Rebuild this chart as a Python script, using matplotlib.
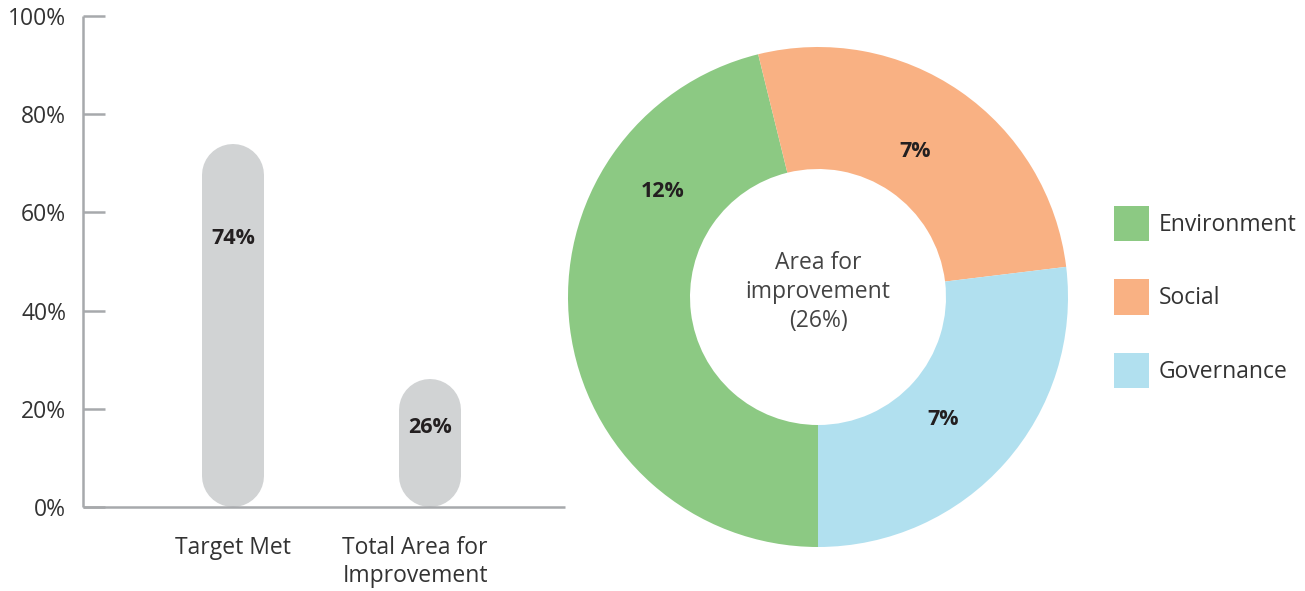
import math
import matplotlib.pyplot as plt
from matplotlib.patches import Patch

plt.rcParams['font.family'] = ['Open Sans', 'DejaVu Sans']

# Bar data
bar_labels = ["Target Met", "Total Area for\nImprovement"]
bar_values = [74, 26]

# Donut data
pie_labels = ["Environment", "Social", "Governance"]
pie_values = [12, 7, 7]
pie_colors = ["#8cc983", "#f9b183", "#b1e0ef"]

text_color = "#333333"
axis_color = "#a7a9ac"
bar_color = "#d1d3d4"
DPI = 100
FS = 16.5

fig = plt.figure(figsize=(13.05, 5.91), dpi=DPI)

# ---- left: pill-shaped bars ----
ax = fig.add_axes([83 / 1305, 84 / 591, 482 / 1305, 491 / 591])
ax.set_xlim(-0.761, 1.685)
ax.set_ylim(0, 100)

for s in ["top", "right"]:
    ax.spines[s].set_visible(False)
for s in ["left", "bottom"]:
    ax.spines[s].set_color(axis_color)
    ax.spines[s].set_linewidth(1.8)
    ax.spines[s].set_capstyle("butt")

ax.set_yticks([0, 20, 40, 60, 80, 100])
ax.set_yticklabels([f"{v}%" for v in range(0, 101, 20)])
ax.tick_params(axis="y", direction="in", length=16, width=1.8, color=axis_color,
               labelsize=FS, labelcolor=text_color, pad=12)
ax.set_xticks([])

bar_px = 62
# cap radius in data units (y)
y_per_px = 100 / 491
r = bar_px / 2 * y_per_px
for i, v in enumerate(bar_values):
    ax.plot([i, i], [r, v - r], color=bar_color, linewidth=bar_px * 72 / DPI,
            solid_capstyle="round", zorder=2)
    label_y = v * 0.74 if v > 50 else v * 0.62
    ax.text(i, label_y, f"{v}%", ha="center", va="center", fontsize=15.5,
            fontweight="bold", color="#231f20", zorder=3)

label_dx = [0, -15]
for i, lab in enumerate(bar_labels):
    ax.annotate(lab, xy=(i, 0), xytext=(label_dx[i] * 72 / DPI, -21),
                textcoords="offset points", ha="center", va="top",
                fontsize=FS, color=text_color, linespacing=1.2,
                annotation_clip=False)

# ---- right: donut ----
pax = fig.add_axes([568 / 1305, 44 / 591, 500 / 1305, 500 / 591])
wedges, _ = pax.pie(pie_values, colors=pie_colors, startangle=270, counterclock=False,
                    radius=1, wedgeprops=dict(width=0.488, linewidth=0))
pax.set_xlim(-1, 1)
pax.set_ylim(-1, 1)
pax.set_aspect("equal")

label_angle_shift = [-41, 1, -3]
label_r = [0.75, 0.70, 0.70]
for w, v, da, rr in zip(wedges, pie_values, label_angle_shift, label_r):
    mid = (w.theta1 + w.theta2) / 2 + da
    pax.text(rr * math.cos(math.radians(mid)), rr * math.sin(math.radians(mid)),
             f"{v}%", ha="center", va="center", fontsize=15.5, fontweight="bold",
             color="#231f20")

pax.text(0, 0.02, f"Area for\nimprovement\n({sum(pie_values)}%)", ha="center",
         va="center", fontsize=FS, color="#444444", linespacing=1.3)

handles = [Patch(facecolor=c, edgecolor="none") for c in pie_colors]
fig.legend(handles, pie_labels, loc="center left", bbox_to_anchor=(1093 / 1305, 294 / 591),
           frameon=False, fontsize=FS, handlelength=1.53, handleheight=1.98,
           labelspacing=1.68, handletextpad=0.45, labelcolor=text_color)

fig.savefig("out.png", dpi=DPI)
